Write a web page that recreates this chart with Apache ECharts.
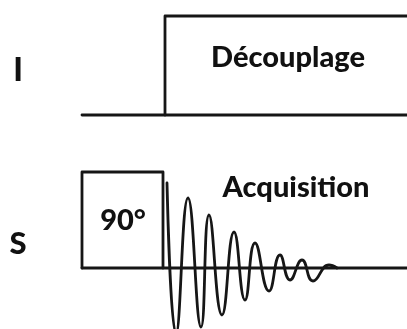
<!DOCTYPE html>
<html><head><meta charset="utf-8">
<script src="https://cdn.jsdelivr.net/npm/echarts@6/dist/echarts.min.js"></script>
<style>html,body{margin:0;padding:0;background:#fff}#c{width:407px;height:329px}</style>
</head><body><div id="c"></div>
<script>
// Time axis in arbitrary units; amplitudes relative to each channel's baseline
const channelNames = ['I', 'S'];
const seqTime = [82, 407];            // start / end of the drawn sequence
const decouplingTime = [165, 407];    // decoupling on I channel
const decouplingLevel = 99;
const pulseTime = [82, 163];          // 90° pulse on S channel
const pulseLevel = 96;
const fidTime = [167, 176, 188, 201, 209, 222, 234, 245, 255, 269, 280, 290, 302, 313, 329, 337];
const fidAmp  = [85, -66, 70, -59, 53, -47, 36, -32, 25, -23, 13, -12, 8, -13, 3, 0];
const textLabels = ['Découplage', '90°', 'Acquisition'];

const fidData = fidTime.map((t, i) => [t, fidAmp[i]]);
const lineColor = '#161616';
const lw = 2.8;
const FONT = 'Lato, "Open Sans", sans-serif';

const chart = echarts.init(document.getElementById('c'), null, {renderer: 'canvas'});
const base = {type: 'line', symbol: 'none', lineStyle: {color: lineColor, width: lw, join: 'round', cap: 'round'}, silent: true, animation: false};
function ser(g, data, extra) { return Object.assign({}, base, {xAxisIndex: g, yAxisIndex: g, data: data}, extra || {}); }

chart.setOption({
  animation: false,
  backgroundColor: '#fff',
  grid: [
    {left: 0, right: 0, top: 0, height: 140},
    {left: 0, right: 0, top: 160, height: 169}
  ],
  xAxis: [
    {type: 'value', gridIndex: 0, min: 0, max: 407, show: false},
    {type: 'value', gridIndex: 1, min: 0, max: 407, show: false}
  ],
  yAxis: [
    {type: 'value', gridIndex: 0, min: -25, max: 115, show: false},
    {type: 'value', gridIndex: 1, min: -61, max: 108, show: false}
  ],
  series: [
    // I channel
    ser(0, [[seqTime[0], 0], [seqTime[1], 0]]),
    ser(0, [[decouplingTime[0], 0], [decouplingTime[0], decouplingLevel], [decouplingTime[1], decouplingLevel]]),
    // S channel
    ser(1, [[seqTime[0], 0], [seqTime[1], 0]]),
    ser(1, [[pulseTime[0], 0], [pulseTime[0], pulseLevel], [pulseTime[1], pulseLevel], [pulseTime[1], 0]]),
    ser(1, fidData, {smooth: 0.5})
  ],
  graphic: [
    {type: 'text', x: 18, y: 71, style: {text: channelNames[0], font: '900 32px ' + FONT, fill: '#111', textAlign: 'center', textVerticalAlign: 'middle'}},
    {type: 'text', x: 18, y: 244, style: {text: channelNames[1], font: '900 31px ' + FONT, fill: '#111', textAlign: 'center', textVerticalAlign: 'middle'}},
    {type: 'text', x: 288, y: 58, style: {text: textLabels[0], font: '900 29px ' + FONT, fill: '#111', textAlign: 'center', textVerticalAlign: 'middle'}},
    {type: 'text', x: 123, y: 221, style: {text: textLabels[1], font: '900 29px ' + FONT, fill: '#111', textAlign: 'center', textVerticalAlign: 'middle'}},
    {type: 'text', x: 296, y: 188, style: {text: textLabels[2], font: '900 29px ' + FONT, fill: '#111', textAlign: 'center', textVerticalAlign: 'middle'}}
  ]
});
</script></body></html>
